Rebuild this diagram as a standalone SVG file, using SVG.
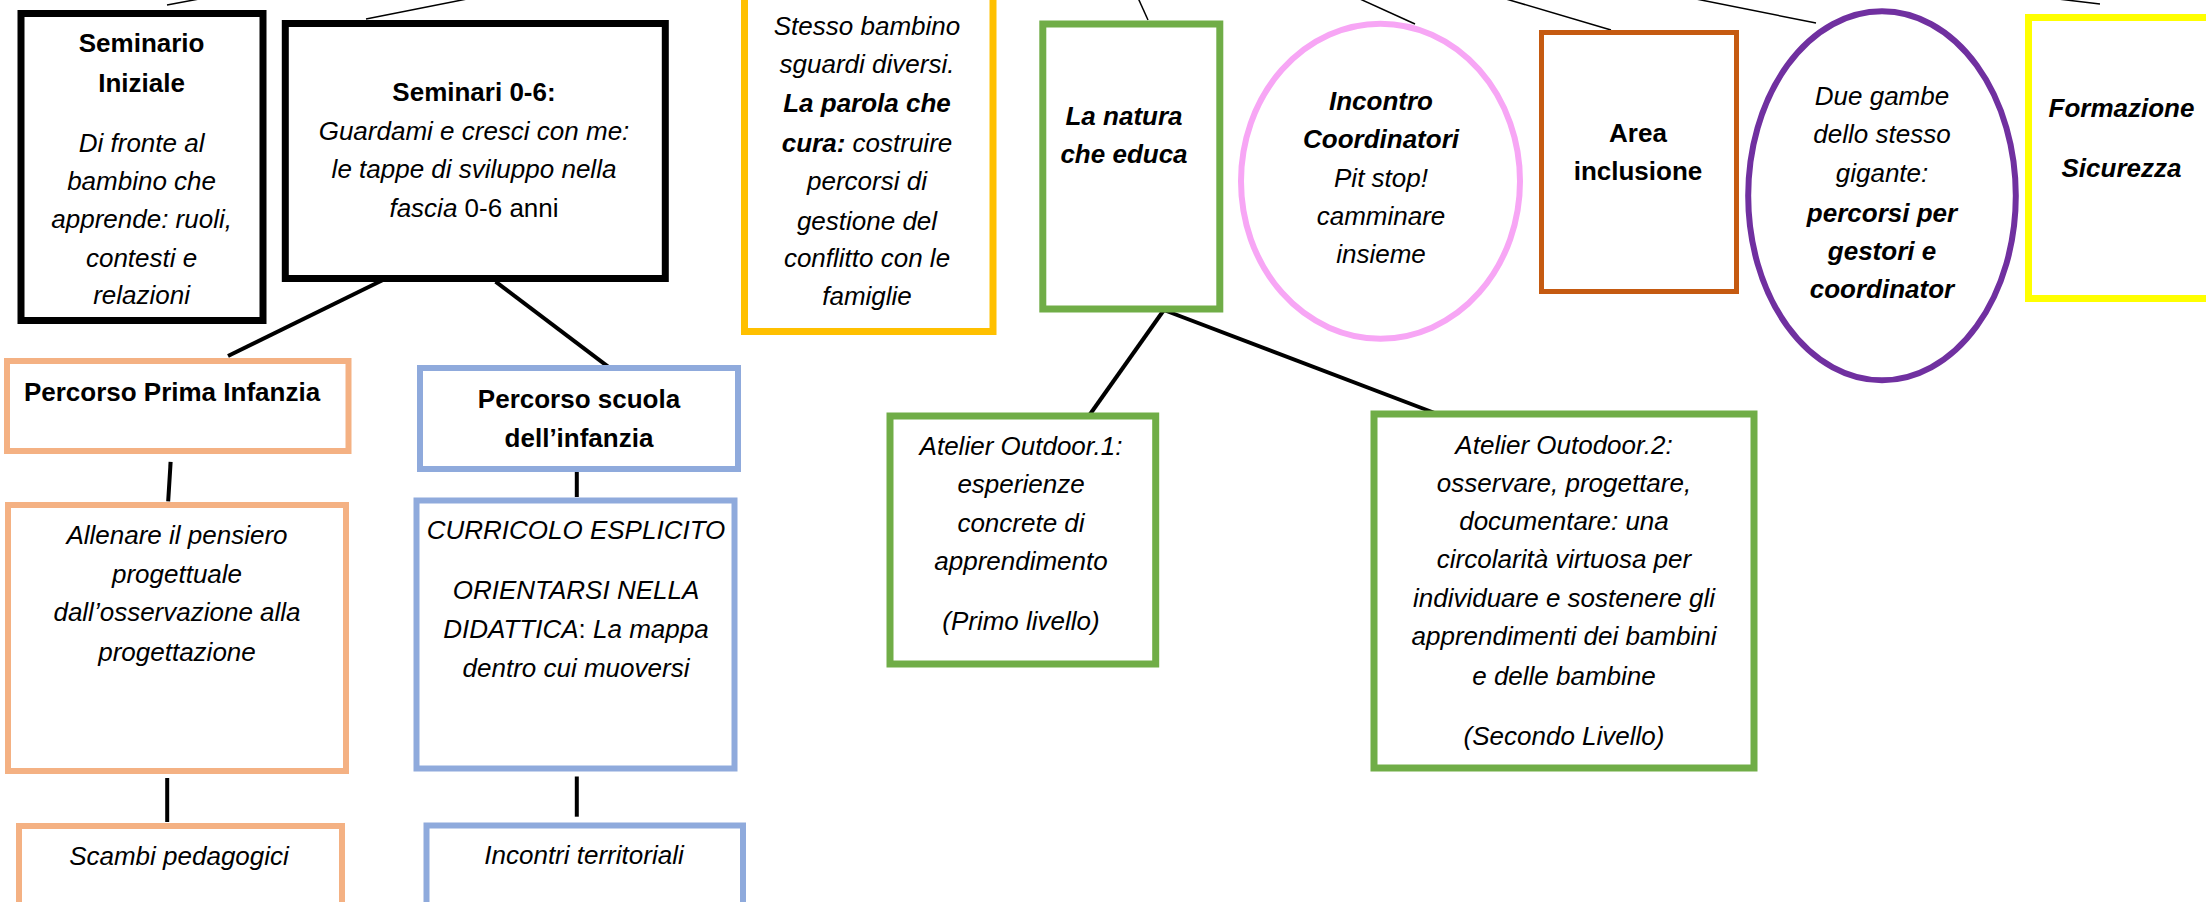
<svg xmlns="http://www.w3.org/2000/svg" width="2206" height="902" viewBox="0 0 2206 902">
<style>
.t{font-family:"Liberation Sans",Arial,sans-serif;font-size:26px;fill:#000;text-anchor:middle}
.b{font-weight:bold}
.i{font-style:italic}
.u{font-style:normal}
.nb{fill:#fff}
.blk{stroke:#000;stroke-width:7}
.org{stroke:#F4B183;stroke-width:6}
.blu{stroke:#8FAADC;stroke-width:6}
.grn{stroke:#70AD47;stroke-width:7}
.c{stroke:#000;stroke-width:4;fill:none}
.th{stroke:#000;stroke-width:1.5;fill:none}
</style>
<rect width="2206" height="902" fill="#fff"/>
<g id="connectors">
<line class="th" x1="167" y1="5" x2="199" y2="-1"/>
<line class="th" x1="366" y1="19" x2="467" y2="-1"/>
<line class="th" x1="1148" y1="20" x2="1138.5" y2="-1"/>
<line class="th" x1="1415" y1="24" x2="1360" y2="-1"/>
<line class="th" x1="1611" y1="30" x2="1506" y2="-1"/>
<line class="th" x1="1816" y1="23" x2="1696" y2="-1"/>
<line class="th" x1="2058" y1="-1" x2="2100" y2="4"/>
<line class="c" x1="389" y1="277" x2="228" y2="356"/>
<line class="c" x1="495.6" y1="281.7" x2="610.7" y2="368.7"/>
<line class="c" x1="170.6" y1="461.9" x2="168.2" y2="501.3"/>
<line class="c" x1="167.2" y1="778" x2="167.2" y2="822"/>
<line class="c" x1="576.8" y1="466" x2="576.8" y2="497"/>
<line class="c" x1="576.8" y1="776.5" x2="576.8" y2="816.7"/>
<line class="c" x1="1163.9" y1="310" x2="1088.8" y2="416"/>
<line class="c" x1="1163.9" y1="310" x2="1442.6" y2="416"/>
</g>
<g id="seminario-iniziale">
<rect class="nb blk" x="21" y="13.5" width="242" height="307"/>
<text class="t b" x="141.6" y="52">Seminario</text>
<text class="t b" x="141.6" y="92">Iniziale</text>
<text class="t i" x="141.6" y="152">Di fronte al</text>
<text class="t i" x="141.6" y="190">bambino che</text>
<text class="t i" x="141.6" y="228">apprende: ruoli,</text>
<text class="t i" x="141.6" y="267">contesti e</text>
<text class="t i" x="141.6" y="304">relazioni</text>
</g>
<g id="seminari-0-6">
<rect class="nb blk" x="285.3" y="23.5" width="380" height="255"/>
<text class="t b" x="474" y="101">Seminari 0-6:</text>
<text class="t i" x="474" y="140">Guardami e cresci con me:</text>
<text class="t i" x="474" y="178">le tappe di sviluppo nella</text>
<text class="t" x="474" y="217"><tspan class="i">fascia</tspan> 0-6 anni</text>
</g>
<g id="percorso-prima-infanzia">
<rect class="nb org" x="7" y="361" width="341.5" height="90"/>
<text class="t b" x="172" y="401">Percorso Prima Infanzia</text>
</g>
<g id="allenare">
<rect class="nb org" x="8" y="505" width="338" height="266"/>
<text class="t i" x="177" y="544">Allenare il pensiero</text>
<text class="t i" x="177" y="583">progettuale</text>
<text class="t i" x="177" y="621">dall’osservazione alla</text>
<text class="t i" x="177" y="661">progettazione</text>
</g>
<g id="scambi-pedagogici">
<rect class="nb org" x="19" y="826" width="323" height="90"/>
<text class="t i" x="179" y="865">Scambi pedagogici</text>
</g>
<g id="percorso-scuola-infanzia">
<rect class="nb blu" x="420" y="368" width="318" height="101"/>
<text class="t b" x="579" y="408">Percorso scuola</text>
<text class="t b" x="579" y="447">dell’infanzia</text>
</g>
<g id="curricolo">
<rect class="nb blu" x="416.5" y="500.5" width="318" height="268"/>
<text class="t i" x="576" y="539">CURRICOLO ESPLICITO</text>
<text class="t i" x="576" y="599">ORIENTARSI NELLA</text>
<text class="t i" x="576" y="638">DIDATTICA<tspan class="u">:</tspan> La mappa</text>
<text class="t i" x="576" y="677">dentro cui muoversi</text>
</g>
<g id="incontri-territoriali">
<rect class="nb blu" x="426.5" y="825.5" width="316.5" height="90"/>
<text class="t i" x="584" y="864">Incontri territoriali</text>
</g>
<g id="stesso-bambino">
<rect class="nb" x="744.5" y="-10" width="248.5" height="341.5" stroke="#FFC000" stroke-width="7"/>
<text class="t i" x="867" y="35">Stesso bambino</text>
<text class="t i" x="867" y="73">sguardi diversi.</text>
<text class="t i b" x="867" y="112">La parola che</text>
<text class="t i" x="867" y="152"><tspan class="b">cura:</tspan> costruire</text>
<text class="t i" x="867" y="190">percorsi di</text>
<text class="t i" x="867" y="230">gestione del</text>
<text class="t i" x="867" y="267">conflitto con le</text>
<text class="t i" x="867" y="305">famiglie</text>
</g>
<g id="la-natura-che-educa">
<rect class="nb grn" x="1042.8" y="24" width="177" height="285"/>
<text class="t i b" x="1124" y="125">La natura</text>
<text class="t i b" x="1124" y="163">che educa</text>
</g>
<g id="atelier-outdoor-1">
<rect class="nb grn" x="890" y="416" width="265.7" height="248"/>
<text class="t i" x="1021" y="455">Atelier Outdoor.1:</text>
<text class="t i" x="1021" y="493">esperienze</text>
<text class="t i" x="1021" y="532">concrete di</text>
<text class="t i" x="1021" y="570">apprendimento</text>
<text class="t i" x="1021" y="630">(Primo livello)</text>
</g>
<g id="atelier-outdoor-2">
<rect class="nb grn" x="1374" y="414" width="380" height="354"/>
<text class="t i" x="1564" y="454">Atelier Outodoor.2:</text>
<text class="t i" x="1564" y="492">osservare, progettare,</text>
<text class="t i" x="1564" y="530">documentare: una</text>
<text class="t i" x="1564" y="568">circolarità virtuosa per</text>
<text class="t i" x="1564" y="607">individuare e sostenere gli</text>
<text class="t i" x="1564" y="645">apprendimenti dei bambini</text>
<text class="t i" x="1564" y="685">e delle bambine</text>
<text class="t i" x="1564" y="745">(Secondo Livello)</text>
</g>
<g id="incontro-coordinatori">
<ellipse class="nb" cx="1380.5" cy="181.2" rx="139.5" ry="157.5" stroke="#F7A6F5" stroke-width="6"/>
<text class="t i b" x="1381" y="110">Incontro</text>
<text class="t i b" x="1381" y="148">Coordinatori</text>
<text class="t i" x="1381" y="187">Pit stop!</text>
<text class="t i" x="1381" y="225">camminare</text>
<text class="t i" x="1381" y="263">insieme</text>
</g>
<g id="area-inclusione">
<rect class="nb" x="1541.5" y="32.5" width="195" height="259" stroke="#C55A11" stroke-width="5"/>
<text class="t b" x="1638" y="142">Area</text>
<text class="t b" x="1638" y="180">inclusione</text>
</g>
<g id="due-gambe">
<ellipse class="nb" cx="1882" cy="195.8" rx="133.8" ry="184.5" stroke="#7030A0" stroke-width="6"/>
<text class="t i" x="1882" y="105">Due gambe</text>
<text class="t i" x="1882" y="143">dello stesso</text>
<text class="t i" x="1882" y="182">gigante:</text>
<text class="t i b" x="1882" y="222">percorsi per</text>
<text class="t i b" x="1882" y="260">gestori e</text>
<text class="t i b" x="1882" y="298">coordinator</text>
</g>
<g id="formazione-sicurezza">
<rect class="nb" x="2028.5" y="17.5" width="200" height="281" stroke="#FFFF00" stroke-width="7"/>
<text class="t i b" x="2121.5" y="117">Formazione</text>
<text class="t i b" x="2121.5" y="177">Sicurezza</text>
</g>
</svg>
